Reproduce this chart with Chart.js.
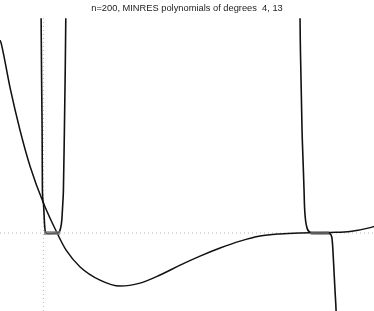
<!DOCTYPE html>
<html>
<head>
<meta charset="utf-8">
<script src="https://cdn.jsdelivr.net/npm/chart.js@4.4.1/dist/chart.umd.min.js"></script>
<style>
  html, body { margin: 0; padding: 0; background: #fff; }
  #wrap { width: 374px; height: 311px; }
</style>
</head>
<body>
<div id="wrap"><canvas id="myChart"></canvas></div>
<script>
// Curvas (x = lambda, y = valor del polinomio)
const deg4X = [-2.59, -2.53, -1.99, -1.40, -0.80, 0, 0.82, 1.36, 2.20, 3.39, 4.59, 5.79, 6.99, 8.19, 9.38, 10.58, 11.78, 12.98, 14.17, 15.37, 16.57, 17.17, 18.37, 19.57, 19.8];
const deg4Y = [6.43, 6.33, 4.83, 3.43, 2.23, 1.0, 0, -0.57, -1.13, -1.57, -1.77, -1.67, -1.40, -1.07, -0.77, -0.50, -0.27, -0.10, -0.03, 0, 0.01, 0.02, 0.05, 0.18, 0.22];

const deg13LeftX = [-0.16, -0.138, -0.108, -0.078, -0.060, 0, 0.072, 0.132, 0.281, 0.521, 0.760, 0.940, 1.030, 1.102, 1.162, 1.198, 1.257, 1.299, 1.341, 1.36];
const deg13LeftY = [9, 7.17, 5.10, 3.43, 1.43, 1.0, 0.267, 0.017, -0.017, -0.01, 0, 0.033, 0.167, 0.433, 1.0, 1.43, 3.43, 5.10, 7.17, 9];

const deg13RightX = [15.35, 15.37, 15.43, 15.49, 15.55, 15.61, 15.64, 15.77, 15.97, 16.21, 16.57, 16.93, 17.13, 17.27, 17.32, 17.37, 17.41, 17.47, 17.53, 17.55];
const deg13RightY = [9, 7.17, 5.10, 3.43, 2.43, 1.43, 0.867, 0.21, 0.033, 0, -0.007, 0, -0.017, -0.133, -0.40, -0.90, -1.33, -1.97, -2.60, -3];

// Intervalos del espectro
const intervals = [[0.04, 1.0], [16.0, 17.1]];

const xMin = -2.6, xMax = 19.8;
const yMin = -2.6, yMax = 7.1667;

const toPoints = (xs, ys) => xs.map((x, i) => ({ x: x, y: ys[i] }));

const datasets = [
    { data: toPoints(deg4X, deg4Y), borderColor: '#111', borderWidth: 1.5, cubicInterpolationMode: 'monotone', order: 2 },
    { data: toPoints(deg13LeftX, deg13LeftY), borderColor: '#111', borderWidth: 1.6, cubicInterpolationMode: 'monotone', order: 2 },
    { data: toPoints(deg13RightX, deg13RightY), borderColor: '#111', borderWidth: 1.6, cubicInterpolationMode: 'monotone', order: 2 },
    { data: [{ x: xMin, y: 0 }, { x: xMax, y: 0 }], borderColor: '#b8b8b8', borderWidth: 1, borderDash: [1, 3], order: 5 },
    { data: [{ x: 0, y: yMin }, { x: 0, y: yMax }], borderColor: '#b8b8b8', borderWidth: 1, borderDash: [1, 3], order: 5 }
];
intervals.forEach(iv => {
    datasets.push({ data: [{ x: iv[0], y: 0 }, { x: iv[1], y: 0 }], borderColor: 'rgba(120,120,120,0.7)', borderWidth: 4, order: 1 });
});

const ctx = document.getElementById('myChart').getContext('2d');
new Chart(ctx, {
    type: 'line',
    data: { datasets: datasets },
    options: {
        responsive: true,
        maintainAspectRatio: false,
        animation: false,
        layout: { padding: 0 },
        elements: { point: { radius: 0 } },
        datasets: { line: { clip: 0, fill: false } },
        plugins: {
            legend: { display: false },
            tooltip: { enabled: false },
            title: {
                display: true,
                text: 'n=200, MINRES polynomials of degrees  4, 13',
                color: '#222',
                font: { family: 'Liberation Sans', size: 9.3, weight: 'normal' },
                padding: { top: 3, bottom: 4 }
            }
        },
        scales: {
            x: { type: 'linear', min: xMin, max: xMax, display: false },
            y: { type: 'linear', min: yMin, max: yMax, display: false }
        }
    }
});
</script>
</body>
</html>
